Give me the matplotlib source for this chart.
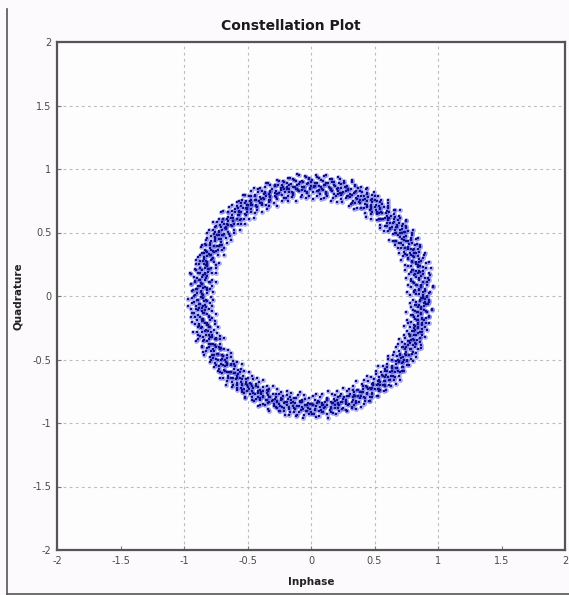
import numpy as np
import matplotlib
matplotlib.use("Agg")
import matplotlib.pyplot as plt
from matplotlib.lines import Line2D

# ---- data: received symbols (phase in degrees, magnitude) ----
# first burst of symbols
phase_deg = [
    0.2, 0.8, 1.7, 2.3, 3.1, 3.6, 4.5, 5.2, 5.8, 6.7, 7.3, 8.0, 8.6, 9.5, 10.1, 10.9, 11.4, 12.3, 13.0, 13.6, 14.5, 15.1, 15.9, 16.6, 17.4,
    18.1, 18.9, 19.4, 20.3, 20.8, 21.6, 22.4, 22.9, 23.8, 24.3, 25.1, 25.9, 26.4, 27.2, 28.0, 28.5, 29.4, 30.0, 30.7, 31.3, 32.2, 32.8, 33.5, 34.3, 35.0, 35.6,
    36.4, 37.0, 37.9, 38.4, 39.1, 39.9, 40.5, 41.3, 41.8, 42.7, 43.2, 44.0, 44.8, 45.3, 46.2, 46.7, 47.5, 48.3, 48.8, 49.6, 50.4, 50.9, 51.8, 52.4, 53.1,
    53.9, 54.5, 55.2, 56.1, 56.6, 57.4, 58.0, 58.9, 59.5, 60.2, 60.9, 61.5, 62.4, 62.9, 63.7, 64.5, 65.0, 65.9, 66.4, 67.2, 68.0, 68.6, 69.3, 70.1, 70.7, 71.4,
    72.2, 72.8, 73.7, 74.2, 75.0, 75.8, 76.3, 77.2, 77.7, 78.5, 79.3, 79.8, 80.7, 81.2, 82.0, 82.9, 83.4, 84.2, 84.8, 85.6, 86.3, 87.0, 87.7, 88.3, 89.1, 89.8,
    90.5, 91.1, 92.0, 92.6, 93.3, 94.1, 94.7, 95.5, 96.2, 96.8, 97.6, 98.3, 98.9, 99.8, 100.3, 101.1, 101.8, 102.4, 103.2, 103.9, 104.5, 105.3, 106.0, 106.6, 107.4,
    108.1, 108.7, 109.6, 110.2, 110.9, 111.7, 112.3, 113.0, 113.8, 114.4, 115.2, 115.9, 116.5, 117.4, 117.9, 118.8, 119.4, 120.1, 120.9, 121.5, 122.3, 123.0, 123.6, 124.5, 125.1, 125.8,
    126.6, 127.2, 128.0, 128.7, 129.3, 130.2, 130.8, 131.5, 132.3, 132.9, 133.7, 134.4, 135.0, 135.9, 136.4, 137.2, 138.0, 138.6, 139.4, 140.1, 140.7, 141.6, 142.2, 142.9, 143.6,
    144.4, 145.0, 145.8, 146.5, 147.1, 148.0, 148.6, 149.3, 150.1, 150.7, 151.5, 152.2, 152.8, 153.7, 154.3, 155.0, 155.8, 156.4, 157.2, 157.9, 158.5, 159.4, 160.0, 160.7, 161.4,
    162.2, 162.8, 163.6, 164.3, 164.9, 165.8, 166.4, 167.1, 167.9, 168.5, 169.3, 170.0, 170.6, 171.5, 172.1, 172.8, 173.6, 174.2, 175.0, 175.7, 176.3, 177.2, 177.8, 178.5, 179.3,
    180.0, 180.6, 181.5, 182.1, 182.8, 183.6, 184.3, 184.9, 185.8, 186.4, 187.1, 187.9, 188.5, 189.3, 190.0, 190.6, 191.5, 192.1, 192.8, 193.6, 194.3, 194.9, 195.8, 196.4, 197.1, 197.8,
    198.5, 199.2, 199.9, 200.7, 201.3, 202.0, 202.8, 203.4, 204.2, 204.9, 205.5, 206.4, 207.0, 207.7, 208.5, 209.1, 209.9, 210.6, 211.2, 212.1, 212.7, 213.4, 214.2, 214.8, 215.6,
    216.3, 216.9, 217.8, 218.4, 219.1, 219.9, 220.5, 221.3, 222.0, 222.6, 223.5, 224.1, 224.8, 225.6, 226.2, 227.0, 227.7, 228.3, 229.2, 229.8, 230.5, 231.3, 231.9, 232.7, 233.4,
    234.1, 234.8, 235.6, 236.2, 236.9, 237.7, 238.3, 239.1, 239.8, 240.4, 241.3, 241.9, 242.6, 243.4, 244.0, 244.8, 245.5, 246.1, 247.0, 247.6, 248.3, 249.1, 249.7, 250.5, 251.2,
    251.9, 252.6, 253.4, 254.0, 254.7, 255.5, 256.1, 256.9, 257.6, 258.2, 259.1, 259.7, 260.4, 261.2, 261.8, 262.6, 263.3, 263.9, 264.8, 265.4, 266.1, 266.9, 267.5, 268.3, 269.0, 269.7,
    270.4, 271.1, 271.9, 272.5, 273.2, 274.0, 274.6, 275.4, 276.1, 276.7, 277.6, 278.2, 278.9, 279.7, 280.3, 281.1, 281.8, 282.4, 283.3, 283.9, 284.6, 285.4, 286.0, 286.8, 287.5,
    288.2, 288.9, 289.7, 290.3, 291.0, 291.8, 292.4, 293.2, 293.9, 294.5, 295.4, 296.0, 296.7, 297.5, 298.1, 298.9, 299.6, 300.2, 301.1, 301.7, 302.4, 303.2, 303.8, 304.6, 305.3,
    306.0, 306.7, 307.5, 308.1, 308.8, 309.6, 310.2, 311.0, 311.7, 312.3, 313.2, 313.8, 314.5, 315.3, 315.9, 316.7, 317.4, 318.0, 318.9, 319.5, 320.2, 321.0, 321.6, 322.4, 323.1,
    323.8, 324.5, 325.3, 325.9, 326.6, 327.4, 328.0, 328.8, 329.5, 330.1, 331.0, 331.6, 332.3, 333.1, 333.7, 334.5, 335.2, 335.8, 336.7, 337.3, 338.0, 338.8, 339.4, 340.2, 340.9, 341.6,
    342.3, 343.1, 343.7, 344.4, 345.2, 345.8, 346.6, 347.3, 347.9, 348.8, 349.4, 350.1, 350.9, 351.5, 352.3, 353.0, 353.6, 354.5, 355.1, 355.8, 356.6, 357.2, 358.0, 358.7, 359.4,
]

magnitude = [
    .91, .85, .94, .88, .82, .90, .96, .87, .84, .92, .89, .81, .93, .86, .95, .90, .83, .88, .97, .85, .91, .87, .94, .82, .89,
    .87, .93, .84, .90, .96, .86, .89, .82, .92, .88, .95, .85, .91, .83, .87, .94, .90, .86, .81, .93, .88, .96, .84, .90, .87, .92,
    .89, .83, .92, .95, .86, .90, .84, .93, .88, .81, .91, .97, .85, .89, .94, .87, .82, .90, .92, .86, .95, .83, .88, .91, .85,
    .94, .88, .82, .91, .86, .93, .89, .96, .84, .90, .87, .92, .83, .95, .88, .85, .91, .80, .93, .89, .86, .94, .90, .84, .97, .87,
    .90, .86, .93, .84, .91, .88, .95, .82, .89, .92, .85, .94, .87, .90, .83, .96, .88, .91, .86, .84, .93, .89, .95, .87, .82, .90,
    .85, .92, .88, .94, .83, .90, .86, .96, .89, .84, .91, .87, .93, .81, .90, .95, .86, .88, .92, .84, .89, .94, .87, .91, .85,
    .92, .87, .83, .90, .95, .88, .85, .93, .89, .81, .91, .86, .94, .88, .96, .84, .90, .87, .92, .83, .89, .95, .86, .91, .88, .93,
    .86, .94, .90, .82, .92, .88, .95, .85, .89, .91, .84, .93, .87, .96, .90, .83, .88, .92, .86, .94, .89, .85, .91, .97, .87,
    .93, .88, .85, .91, .96, .84, .89, .92, .87, .94, .82, .90, .86, .93, .88, .95, .84, .91, .89, .86, .92, .83, .90, .94, .87,
    .89, .95, .86, .92, .83, .90, .88, .94, .85, .91, .97, .87, .93, .84, .89, .92, .86, .95, .88, .82, .91, .87, .94, .90, .85,
    .92, .86, .97, .89, .84, .94, .88, .91, .83, .95, .90, .87, .93, .85, .96, .89, .82, .92, .88, .94, .86, .91, .84, .90, .97, .87,
    .88, .94, .84, .91, .97, .86, .92, .89, .83, .95, .87, .90, .85, .93, .88, .96, .82, .91, .89, .86, .94, .90, .84, .92, .87,
    .95, .89, .85, .92, .87, .93, .83, .90, .96, .88, .84, .91, .86, .94, .89, .82, .92, .87, .95, .90, .85, .93, .88, .91, .86,
    .90, .84, .93, .88, .95, .86, .91, .89, .83, .94, .87, .92, .85, .90, .96, .88, .84, .93, .89, .86, .91, .95, .87, .82, .90,
    .87, .92, .89, .84, .94, .90, .86, .93, .88, .81, .91, .95, .85, .89, .92, .87, .94, .83, .90, .88, .96, .86, .91, .84, .93, .89,
    .93, .86, .90, .95, .84, .91, .88, .92, .85, .89, .94, .87, .82, .93, .90, .86, .95, .88, .91, .84, .89, .92, .87, .94, .85,
    .88, .91, .84, .93, .89, .96, .86, .90, .83, .92, .87, .95, .88, .85, .91, .94, .89, .82, .93, .86, .90, .87, .95, .84, .92,
    .91, .87, .94, .85, .90, .92, .83, .89, .95, .86, .91, .88, .93, .84, .90, .96, .87, .89, .85, .92, .88, .94, .81, .91, .87,
    .86, .93, .89, .91, .84, .95, .88, .90, .87, .92, .83, .94, .89, .86, .91, .96, .85, .90, .88, .93, .84, .92, .87, .95, .89, .86,
    .92, .88, .95, .84, .90, .87, .93, .86, .91, .89, .82, .94, .88, .85, .92, .90, .96, .87, .83, .91, .89, .93, .86, .90, .88,
]

# second burst of symbols
phase_deg_2 = [
    0.5, 1.3, 2.0, 2.6, 3.4, 4.1, 4.7, 5.5, 6.0, 6.9, 7.6, 8.2, 9.0, 9.7, 10.3, 11.1, 11.8, 12.5, 13.2, 13.9, 14.7, 15.3, 16.1, 16.8, 17.7,
    18.5, 19.1, 19.9, 20.6, 21.2, 22.0, 22.7, 23.3, 24.1, 24.8, 25.5, 26.2, 26.8, 27.6, 28.3, 29.0, 29.7, 30.4, 31.0, 31.8, 32.5, 33.1, 33.9, 34.6, 35.3,
    36.1, 36.7, 37.5, 38.2, 38.8, 39.6, 40.3, 40.9, 41.6, 42.4, 43.0, 43.7, 44.5, 45.1, 45.8, 46.5, 47.2, 47.9, 48.6, 49.3, 50.0, 50.7, 51.4, 52.1, 52.8, 53.5,
    54.2, 54.9, 55.6, 56.3, 57.0, 57.7, 58.4, 59.1, 59.8, 60.5, 61.2, 61.9, 62.6, 63.3, 64.0, 64.7, 65.4, 66.1, 66.8, 67.5, 68.2, 68.9, 69.6, 70.3, 71.0, 71.7,
    72.5, 73.1, 73.9, 74.6, 75.3, 76.0, 76.6, 77.4, 78.1, 78.8, 79.5, 80.1, 80.9, 81.6, 82.3, 83.0, 83.7, 84.4, 85.1, 85.8, 86.5, 87.2, 87.9, 88.6, 89.4,
    90.2, 90.8, 91.5, 92.3, 92.9, 93.6, 94.4, 95.0, 95.7, 96.5, 97.1, 97.9, 98.6, 99.2, 100.0, 100.6, 101.4, 102.1, 102.7, 103.5, 104.2, 104.8, 105.6, 106.3, 107.0, 107.7,
    108.4, 109.1, 109.8, 110.5, 111.2, 111.9, 112.6, 113.3, 114.0, 114.7, 115.4, 116.1, 116.8, 117.5, 118.2, 118.9, 119.6, 120.3, 121.0, 121.7, 122.4, 123.1, 123.8, 124.5, 125.2, 125.9,
    126.3, 127.0, 127.7, 128.4, 129.1, 129.8, 130.5, 131.2, 131.9, 132.6, 133.3, 134.0, 134.7, 135.4, 136.1, 136.8, 137.5, 138.2, 138.9, 139.6, 140.3, 141.0, 141.7, 142.4, 143.1, 143.9,
    144.7, 145.3, 146.1, 146.8, 147.4, 148.2, 148.9, 149.6, 150.4, 151.0, 151.8, 152.5, 153.1, 153.9, 154.6, 155.3, 156.1, 156.7, 157.5, 158.2, 158.8, 159.6, 160.3, 161.0, 161.7,
    162.5, 163.2, 163.9, 164.6, 165.3, 166.0, 166.7, 167.4, 168.1, 168.8, 169.5, 170.2, 170.9, 171.6, 172.3, 173.0, 173.7, 174.4, 175.1, 175.8, 176.5, 177.2, 177.9, 178.6, 179.6,
    180.3, 181.0, 181.8, 182.4, 183.1, 183.9, 184.6, 185.2, 186.0, 186.7, 187.4, 188.2, 188.8, 189.6, 190.3, 191.0, 191.7, 192.4, 193.1, 193.9, 194.6, 195.3, 196.0, 196.7, 197.4,
    198.2, 198.8, 199.6, 200.3, 201.0, 201.7, 202.4, 203.1, 203.8, 204.5, 205.2, 205.9, 206.7, 207.4, 208.1, 208.8, 209.5, 210.2, 210.9, 211.6, 212.4, 213.1, 213.8, 214.5, 215.2, 215.9,
    216.6, 217.3, 218.1, 218.7, 219.5, 220.2, 220.8, 221.6, 222.3, 223.0, 223.8, 224.4, 225.2, 225.9, 226.5, 227.3, 228.0, 228.7, 229.5, 230.1, 230.9, 231.6, 232.2, 233.0, 233.7,
    234.4, 235.1, 235.9, 236.6, 237.2, 238.0, 238.7, 239.4, 240.1, 240.8, 241.6, 242.2, 243.0, 243.7, 244.3, 245.1, 245.8, 246.5, 247.3, 247.9, 248.7, 249.4, 250.0, 250.8, 251.5,
    252.2, 252.9, 253.7, 254.3, 255.1, 255.8, 256.4, 257.2, 257.9, 258.6, 259.4, 260.0, 260.8, 261.5, 262.1, 262.9, 263.6, 264.3, 265.1, 265.7, 266.5, 267.2, 267.8, 268.6, 269.3,
    270.1, 270.7, 271.5, 272.2, 272.8, 273.6, 274.3, 275.0, 275.8, 276.4, 277.2, 277.9, 278.5, 279.3, 280.0, 280.7, 281.5, 282.1, 282.9, 283.6, 284.2, 285.0, 285.7, 286.4, 287.2, 287.9,
    288.6, 289.3, 290.0, 290.7, 291.4, 292.1, 292.8, 293.5, 294.2, 294.9, 295.7, 296.3, 297.1, 297.8, 298.5, 299.2, 299.9, 300.6, 301.4, 302.0, 302.8, 303.5, 304.2, 304.9, 305.6,
    306.4, 307.1, 307.8, 308.5, 309.2, 309.9, 310.6, 311.3, 312.0, 312.7, 313.5, 314.1, 314.9, 315.6, 316.3, 317.0, 317.7, 318.4, 319.2, 319.8, 320.6, 321.3, 322.0, 322.7, 323.4,
    324.2, 324.9, 325.6, 326.3, 327.0, 327.7, 328.4, 329.1, 329.8, 330.5, 331.3, 331.9, 332.7, 333.4, 334.1, 334.8, 335.5, 336.2, 337.0, 337.6, 338.4, 339.1, 339.8, 340.5, 341.2, 341.9,
    342.7, 343.4, 344.1, 344.8, 345.5, 346.2, 346.9, 347.6, 348.3, 349.0, 349.7, 350.4, 351.2, 351.8, 352.6, 353.3, 354.0, 354.7, 355.4, 356.1, 356.8, 357.5, 358.3, 359.0, 359.7,
]

magnitude_2 = [
    .88, .93, .81, .90, .85, .96, .87, .92, .83, .89, .94, .86, .91, .80, .88, .95, .84, .90, .87, .93, .82, .89, .97, .86, .91,
    .84, .90, .95, .87, .82, .92, .88, .85, .94, .89, .81, .93, .86, .90, .96, .83, .88, .91, .85, .94, .87, .79, .92, .89, .86,
    .93, .87, .90, .84, .96, .88, .82, .91, .86, .94, .89, .83, .92, .87, .95, .85, .90, .88, .81, .93, .86, .91, .97, .84, .89, .92,
    .86, .91, .83, .95, .88, .90, .84, .93, .87, .80, .92, .89, .96, .85, .91, .87, .94, .82, .90, .88, .93, .86, .84, .95, .89, .91,
    .90, .85, .94, .88, .83, .92, .87, .96, .89, .84, .91, .86, .93, .81, .90, .88, .95, .85, .92, .87, .83, .94, .89, .86, .91,
    .87, .93, .89, .82, .95, .86, .91, .84, .90, .97, .88, .85, .92, .87, .94, .83, .89, .91, .86, .93, .80, .90, .88, .95, .85, .92,
    .91, .86, .84, .93, .89, .96, .87, .82, .90, .88, .94, .85, .92, .86, .81, .91, .95, .88, .84, .93, .89, .87, .96, .83, .90, .86,
    .85, .92, .88, .94, .83, .90, .87, .91, .86, .95, .82, .89, .93, .88, .85, .97, .90, .84, .92, .87, .91, .86, .94, .89, .81, .93,
    .89, .84, .93, .87, .91, .85, .96, .88, .82, .90, .94, .86, .89, .92, .83, .87, .95, .90, .85, .91, .88, .93, .84, .89, .86,
    .92, .88, .85, .94, .86, .90, .83, .93, .89, .87, .96, .84, .91, .88, .80, .92, .86, .95, .89, .85, .90, .93, .87, .82, .91,
    .87, .94, .90, .83, .92, .88, .97, .85, .89, .91, .84, .95, .86, .90, .93, .82, .88, .96, .87, .91, .85, .92, .89, .84, .94,
    .90, .86, .93, .88, .95, .84, .91, .87, .82, .94, .89, .86, .92, .96, .85, .90, .88, .83, .93, .87, .91, .95, .84, .89, .86, .92,
    .84, .91, .88, .94, .86, .90, .93, .81, .89, .95, .87, .92, .85, .90, .97, .86, .88, .93, .83, .91, .87, .94, .89, .85, .92,
    .93, .87, .90, .85, .96, .88, .83, .92, .89, .86, .94, .90, .84, .91, .87, .95, .82, .89, .93, .86, .90, .88, .96, .84, .91,
    .88, .92, .85, .90, .94, .87, .91, .83, .96, .89, .86, .93, .88, .81, .90, .95, .87, .92, .84, .89, .94, .86, .91, .88, .85,
    .91, .85, .93, .89, .87, .95, .84, .90, .92, .86, .88, .97, .83, .91, .89, .94, .86, .90, .85, .93, .88, .82, .92, .87, .95, .89,
    .86, .90, .94, .84, .92, .88, .91, .85, .96, .87, .89, .83, .93, .90, .86, .95, .88, .92, .84, .91, .87, .94, .89, .85, .90,
    .92, .87, .89, .95, .85, .91, .88, .93, .84, .90, .86, .96, .89, .82, .92, .87, .94, .85, .90, .88, .93, .86, .91, .84, .89,
    .89, .94, .86, .91, .84, .93, .87, .90, .96, .85, .92, .88, .83, .94, .89, .86, .91, .95, .87, .90, .84, .92, .88, .93, .86, .90,
    .85, .91, .88, .93, .87, .90, .95, .84, .89, .92, .86, .94, .88, .83, .91, .87, .96, .89, .85, .92, .90, .86, .93, .88, .91,
]

# third burst of symbols (inner side of the ring)
phase_deg_3 = [
    0.4, 1.3, 2.1, 3.0, 3.8, 4.9, 5.6, 6.5, 7.4, 8.7,
    10.1, 10.9, 12.0, 12.7, 13.6, 14.4, 15.5, 16.2, 17.1, 18.3, 19.2,
    20.7, 21.6, 22.4, 23.5, 24.2, 25.1, 26.0, 26.8, 27.9, 28.9,
    30.4, 31.3, 32.1, 33.0, 33.8, 34.9, 35.6, 36.5, 37.4, 38.7,
    40.1, 40.9, 42.0, 42.7, 43.6, 44.4, 45.5, 46.2, 47.1, 48.3, 49.2,
    50.7, 51.6, 52.4, 53.5, 54.2, 55.1, 56.0, 56.8, 57.9, 58.9,
    60.4, 61.3, 62.1, 63.0, 63.8, 64.9, 65.6, 66.5, 67.4, 68.7,
    70.1, 70.9, 72.0, 72.7, 73.6, 74.4, 75.5, 76.2, 77.1, 78.3, 79.2,
    80.7, 81.6, 82.4, 83.5, 84.2, 85.1, 86.0, 86.8, 87.9, 88.9,
    90.4, 91.3, 92.1, 93.0, 93.8, 94.9, 95.6, 96.5, 97.4, 98.7,
    100.1, 100.9, 102.0, 102.7, 103.6, 104.4, 105.5, 106.2, 107.1, 108.3, 109.2,
    110.7, 111.6, 112.4, 113.5, 114.2, 115.1, 116.0, 116.8, 117.9, 118.9,
    120.4, 121.3, 122.1, 123.0, 123.8, 124.9, 125.6, 126.5, 127.4, 128.7,
    130.1, 130.9, 132.0, 132.7, 133.6, 134.4, 135.5, 136.2, 137.1, 138.3, 139.2,
    140.7, 141.6, 142.4, 143.5, 144.2, 145.1, 146.0, 146.8, 147.9, 148.9,
    150.4, 151.3, 152.1, 153.0, 153.8, 154.9, 155.6, 156.5, 157.4, 158.7,
    160.1, 160.9, 162.0, 162.7, 163.6, 164.4, 165.5, 166.2, 167.1, 168.3, 169.2,
    170.7, 171.6, 172.4, 173.5, 174.2, 175.1, 176.0, 176.8, 177.9, 178.9,
    180.4, 181.3, 182.1, 183.0, 183.8, 184.9, 185.6, 186.5, 187.4, 188.7,
    190.1, 190.9, 192.0, 192.7, 193.6, 194.4, 195.5, 196.2, 197.1, 198.3, 199.2,
    200.7, 201.6, 202.4, 203.5, 204.2, 205.1, 206.0, 206.8, 207.9, 208.9,
    210.4, 211.3, 212.1, 213.0, 213.8, 214.9, 215.6, 216.5, 217.4, 218.7,
    220.1, 220.9, 222.0, 222.7, 223.6, 224.4, 225.5, 226.2, 227.1, 228.3, 229.2,
    230.7, 231.6, 232.4, 233.5, 234.2, 235.1, 236.0, 236.8, 237.9, 238.9,
    240.4, 241.3, 242.1, 243.0, 243.8, 244.9, 245.6, 246.5, 247.4, 248.7,
    250.1, 250.9, 252.0, 252.7, 253.6, 254.4, 255.5, 256.2, 257.1, 258.3, 259.2,
    260.7, 261.6, 262.4, 263.5, 264.2, 265.1, 266.0, 266.8, 267.9, 268.9,
    270.4, 271.3, 272.1, 273.0, 273.8, 274.9, 275.6, 276.5, 277.4, 278.7,
    280.1, 280.9, 282.0, 282.7, 283.6, 284.4, 285.5, 286.2, 287.1, 288.3, 289.2,
    290.7, 291.6, 292.4, 293.5, 294.2, 295.1, 296.0, 296.8, 297.9, 298.9,
    300.4, 301.3, 302.1, 303.0, 303.8, 304.9, 305.6, 306.5, 307.4, 308.7,
    310.1, 310.9, 312.0, 312.7, 313.6, 314.4, 315.5, 316.2, 317.1, 318.3, 319.2,
    320.7, 321.6, 322.4, 323.5, 324.2, 325.1, 326.0, 326.8, 327.9, 328.9,
    330.4, 331.3, 332.1, 333.0, 333.8, 334.9, 335.6, 336.5, 337.4, 338.7,
    340.1, 340.9, 342.0, 342.7, 343.6, 344.4, 345.5, 346.2, 347.1, 348.3, 349.2,
    350.7, 351.6, 352.4, 353.5, 354.2, 355.1, 356.0, 356.8, 357.9, 358.9,
]

magnitude_3 = [
    .78, .83, .76, .81, .85, .79, .87, .77, .82, .80, .84, .76, .86, .79, .81, .83, .77, .88, .80, .78, .84, .82, .76, .85, .79, .81, .87, .77, .83, .80, .78,
    .82, .77, .85, .80, .78, .84, .76, .83, .81, .87, .79, .82, .77, .85, .80, .76, .86, .78, .83, .81, .79, .84, .87, .77, .80, .82, .76, .85, .78, .83, .81,
    .80, .86, .78, .83, .76, .81, .85, .79, .77, .84, .82, .88, .78, .80, .83, .77, .85, .81, .79, .76, .86, .80, .82, .78, .84, .77, .81, .83, .79, .87, .76,
    .84, .79, .81, .77, .86, .80, .78, .83, .85, .76, .82, .79, .84, .81, .77, .87, .80, .83, .78, .85, .81, .76, .79, .84, .82, .86, .78, .80, .77, .83, .85,
    .77, .82, .80, .85, .79, .87, .81, .76, .83, .78, .86, .80, .82, .77, .84, .79, .81, .85, .76, .83, .80, .78, .86, .82, .79, .84, .77, .81, .88, .78, .83,
    .81, .78, .84, .79, .82, .76, .85, .80, .87, .83, .77, .81, .79, .86, .78, .82, .84, .77, .80, .85, .83, .79, .76, .81, .87, .78, .84, .80, .82, .77, .86,
    .79, .85, .77, .82, .80, .84, .78, .86, .81, .79, .83, .76, .87, .80, .82, .78, .85, .79, .83, .77, .81, .86, .80, .84, .78, .82, .79, .76, .85, .81, .83,
    .83, .80, .86, .78, .84, .81, .77, .82, .79, .85, .80, .83, .78, .81, .87, .76, .82, .80, .84, .79, .85, .77, .83, .81, .78, .86, .80, .84, .77, .82, .79,
    .76, .84, .81, .87, .79, .82, .80, .85, .77, .83, .78, .86, .81, .79, .84, .82, .77, .80, .86, .78, .83, .81, .85, .79, .76, .84, .82, .78, .81, .86, .80,
    .85, .79, .82, .77, .83, .80, .86, .78, .84, .81, .76, .85, .79, .83, .80, .87, .78, .82, .81, .84, .77, .80, .83, .79, .86, .81, .78, .82, .85, .76, .84,
    .80, .83, .78, .86, .81, .77, .84, .79, .82, .87, .80, .78, .85, .81, .76, .83, .79, .86, .82, .80, .84, .78, .81, .77, .85, .80, .83, .79, .87, .82, .78,
    .82, .78, .85, .80, .77, .84, .81, .86, .79, .83, .80, .84, .77, .82, .85, .79, .81, .78, .86, .83, .80, .76, .84, .81, .79, .85, .82, .78, .83, .80, .87,
]

axis_ticks = [-2, -1.5, -1, -0.5, 0, 0.5, 1, 1.5, 2]
axis_tick_labels = ['-2', '-1.5', '-1', '-0.5', '0', '0.5', '1', '1.5', '2']


def to_iq(phases, mags):
    n = min(len(phases), len(mags))
    th = np.deg2rad(np.array(phases[:n], dtype=float))
    r = np.array(mags[:n], dtype=float)
    return r * np.cos(th), r * np.sin(th)


i1, q1 = to_iq(phase_deg, magnitude)
i2, q2 = to_iq(phase_deg_2, magnitude_2)
i3, q3 = to_iq(phase_deg_3, magnitude_3)
inphase = np.concatenate([i1, i2, i3])
quadrature = np.concatenate([q1, q2, q3])

# ---- figure ----
W, H = 569, 595
fig = plt.figure(figsize=(W / 100, H / 100), dpi=100, facecolor='#fcfafc')
ax = fig.add_axes([57 / W, 1 - 550 / H, (565 - 57) / W, (550 - 42) / H])
ax.set_facecolor('#fefdfe')

# soft halo + dark dots
ax.scatter(inphase, quadrature, s=12, marker='o', color='#2b2fd4', alpha=0.40,
           linewidths=0, zorder=3)
ax.scatter(inphase, quadrature, s=3.0, marker='s', color='#0e0e82', linewidths=0,
           zorder=4)

ax.set_xlim(-2, 2)
ax.set_ylim(-2, 2)
ax.set_xticks(axis_ticks)
ax.set_yticks(axis_ticks)
ax.set_xticklabels(axis_tick_labels)
ax.set_yticklabels(axis_tick_labels)
ax.tick_params(axis='both', direction='in', length=3, width=0.8, color='#777777',
               labelsize=7, labelcolor='#4a4a4a', pad=4)

ax.grid(True, color='#bcbcbc', linestyle=(0, (2.5, 3)), linewidth=0.8, zorder=1)
for tick, gl in zip(axis_ticks, ax.get_xgridlines()):
    if abs(tick) > 1.2:
        gl.set_visible(False)

for sp in ax.spines.values():
    sp.set_color('#555555')
    sp.set_linewidth(1.6)

ax.set_xlabel('Inphase', fontsize=7.5, fontweight='bold', color='#222222', labelpad=8)
ax.set_ylabel('Quadrature', fontsize=7.5, fontweight='bold', color='#222222', labelpad=7)

fig.text(291 / W, 1 - 26 / H, 'Constellation Plot', ha='center', va='center',
         fontsize=10, fontweight='bold', color='#1a1a1a')

# window border (left and bottom)
fig.add_artist(Line2D([7 / W, 7 / W], [1 - 9 / H, 1 - 594 / H], transform=fig.transFigure,
                      color='#555555', linewidth=1.2))
fig.add_artist(Line2D([7 / W, 1.0], [1 - 594 / H, 1 - 594 / H], transform=fig.transFigure,
                      color='#555555', linewidth=1.2))

fig.savefig('out.png', dpi=100, facecolor=fig.get_facecolor())
